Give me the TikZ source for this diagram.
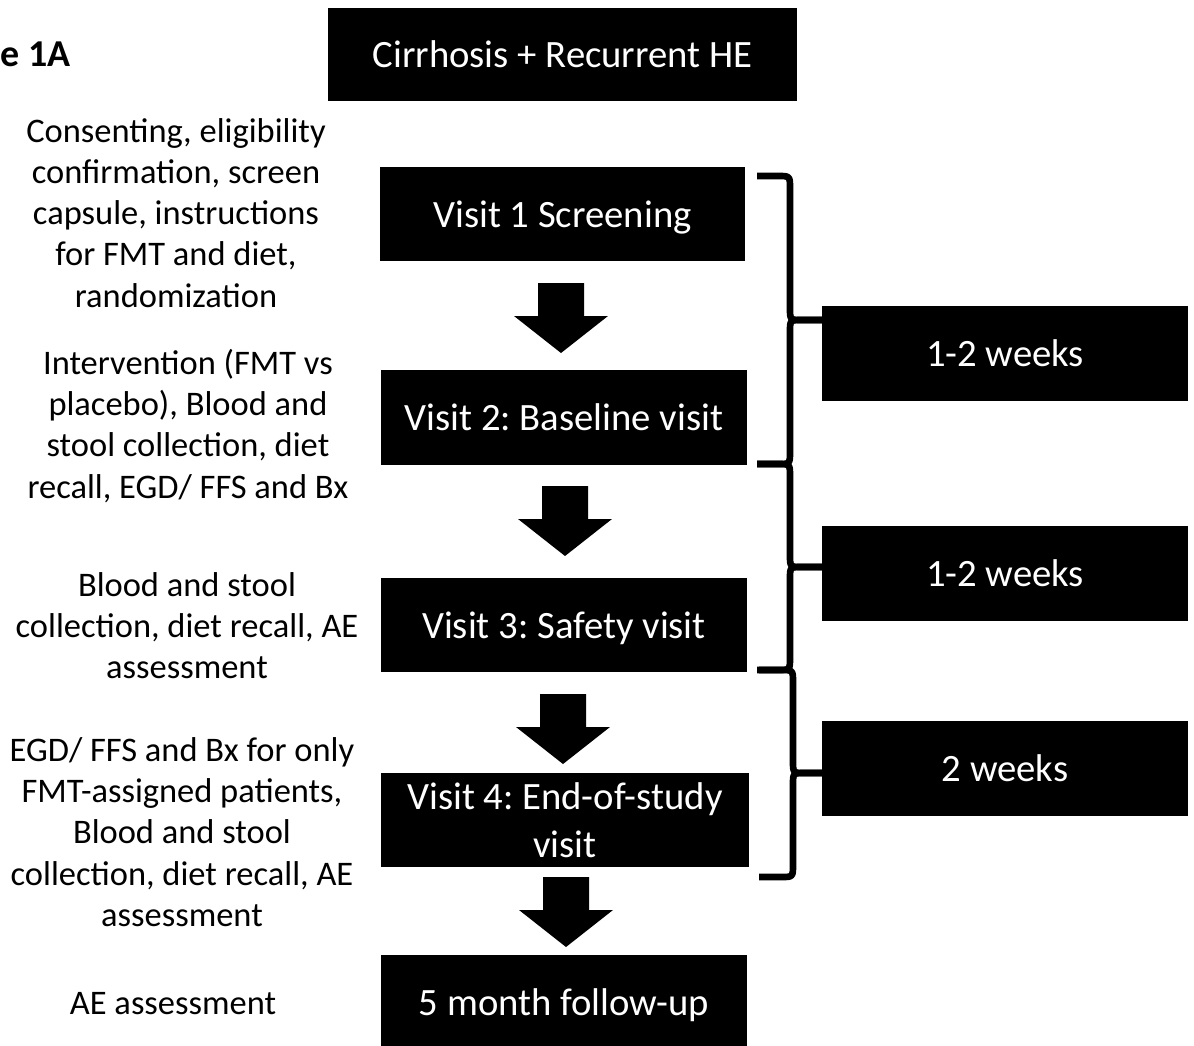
\documentclass[tikz,border=0pt]{standalone}
\usepackage{fontspec}
\setmainfont{Carlito}
\frenchspacing
\begin{document}
\begin{tikzpicture}[x=0.01cm,y=-0.01cm,
  blackbox/.style={fill=black,text=white,inner sep=0pt,align=center,
    font=\fontsize{11}{13.6}\selectfont},
  oneline/.style={text depth=0pt},
  sidetext/.style={align=center,inner sep=0pt,
    font=\fontsize{9.8}{11.7}\selectfont},
  bracepath/.style={line width=1.9pt,line join=round,line cap=butt}]
\useasboundingbox (0,0) rectangle (1194,1045);
% title fragment
\node[anchor=west,inner sep=0pt,font=\fontsize{10.8}{13}\selectfont\bfseries] (fig) at (0,54) {e 1A};
% main boxes
\node[blackbox,oneline,minimum width=4.69cm,minimum height=0.93cm] (top) at (562.5,54.5) {Cirrhosis + Recurrent HE};
\node[blackbox,oneline,minimum width=3.65cm,minimum height=0.94cm] (v1) at (562.5,214) {Visit 1 Screening};
\node[blackbox,oneline,minimum width=3.66cm,minimum height=0.95cm] (v2) at (564,417.5) {Visit 2: Baseline visit};
\node[blackbox,oneline,minimum width=3.66cm,minimum height=0.94cm] (v3) at (564,625) {Visit 3: Safety visit};
\node[blackbox,minimum width=3.68cm,minimum height=0.94cm] (v4) at (565,820) {Visit 4: End-of-study\\visit};
\node[blackbox,oneline,minimum width=3.66cm,minimum height=0.94cm] (v5) at (564,1002) {5 month follow-up};
% week boxes
\node[blackbox,oneline,minimum width=3.66cm,minimum height=0.95cm] (w1) at (1005,353.5) {1-2 weeks};
\node[blackbox,oneline,minimum width=3.66cm,minimum height=0.95cm] (w2) at (1005,573.5) {1-2 weeks};
\node[blackbox,oneline,minimum width=3.66cm,minimum height=0.95cm] (w3) at (1005,768.5) {2 weeks};
% side texts
\node[sidetext] (s1) at (176,213) {Consenting, eligibility\\confirmation, screen\\capsule, instructions\\for FMT and diet,\\randomization};
\node[sidetext] (s2) at (188,426) {Intervention (FMT vs\\placebo), Blood and\\stool collection, diet\\recall, EGD/ FFS and Bx};
\node[sidetext] (s3) at (187,626) {Blood and stool\\collection, diet recall, AE\\assessment};
\node[sidetext] (s4) at (182,832) {EGD/ FFS and Bx for only\\FMT-assigned patients,\\Blood and stool\\collection, diet recall, AE\\assessment};
\node[sidetext] (s5) at (173,1004) {AE assessment};
% block arrows
\newcommand{\blockarrow}[2]{%
  \fill ({#1-23},{#2}) -- ({#1+23},{#2}) -- ({#1+23},{#2+33}) -- ({#1+47},{#2+33})
    -- ({#1},{#2+70}) -- ({#1-47},{#2+33}) -- ({#1-23},{#2+33}) -- cycle;}
\blockarrow{561}{283}
\blockarrow{565}{486}
\blockarrow{563}{694}
\blockarrow{566}{877}
% braces
\newcommand{\weekbrace}[5]{% x-start, x-vertical, top, middle, bottom
  \draw[bracepath] (#1,#3) -- ({#2-12},#3) .. controls (#2,#3) .. (#2,{#3+13})
    -- (#2,{#4-12}) .. controls (#2,#4) .. ({#2+12},#4) -- (822,#4);
  \draw[bracepath] (822,#4) -- ({#2+12},#4) .. controls (#2,#4) .. (#2,{#4+12})
    -- (#2,{#5-13}) .. controls (#2,#5) .. ({#2-12},#5) -- (#1,#5);}
\weekbrace{757}{790}{176}{320}{464}
\weekbrace{757}{790}{464}{567}{670}
\weekbrace{759}{793}{670}{773}{877}
\end{tikzpicture}
\end{document}
